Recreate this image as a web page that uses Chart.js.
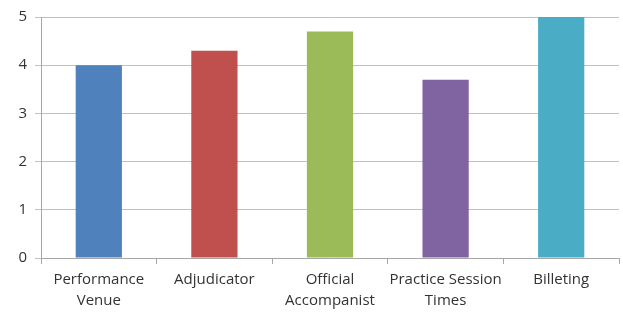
<!DOCTYPE html>
<html><head><meta charset="utf-8">
<script src="https://cdn.jsdelivr.net/npm/chart.js@4"></script>
<style>html,body{margin:0;padding:0;background:#fff}#wrap{width:623px;height:312px}</style>
</head><body><div id="wrap"><canvas id="c" width="623" height="312"></canvas></div>
<script>
const categories = [["Performance","Venue"],"Adjudicator",["Official","Accompanist"],["Practice Session","Times"],"Billeting"];
const values = [4, 4.3, 4.7, 3.7, 5];
const barColors = ["#4F81BD","#C0504D","#9BBB59","#8064A2","#4BACC6"];
const yTicks = [0,1,2,3,4,5];

new Chart(document.getElementById('c'), {
  type: 'bar',
  data: { labels: categories, datasets: [{ data: values, backgroundColor: barColors, borderColor: barColors, borderWidth: 0, barPercentage: 0.4, categoryPercentage: 1 }] },
  options: {
    responsive: false, animation: false,
    layout: { padding: { top: 17, right: 4, left: 0, bottom: 0 } },
    plugins: { legend: { display: false }, tooltip: { enabled: false } },
    scales: {
      x: {
        offset: true,
        grid: { offset: true, drawOnChartArea: false, drawTicks: true, tickLength: 6, color: '#a6a6a6' },
        border: { color: '#a6a6a6' },
        ticks: { color: '#333', font: { family: 'Open Sans', size: 15, lineHeight: 1.35 }, maxRotation: 0, padding: 6 },
        afterFit: s => { s.height = 54; }
      },
      y: {
        min: 0, max: 5,
        afterBuildTicks: s => { s.ticks = yTicks.map(v => ({ value: v })); },
        grid: { color: '#c0c0c0', tickLength: 6, lineWidth: 1 },
        border: { color: '#a6a6a6' },
        ticks: { color: '#333', font: { family: 'Open Sans', size: 15 }, padding: 8 },
        afterFit: s => { s.width = 41; }
      }
    }
  }
});
</script></body></html>
